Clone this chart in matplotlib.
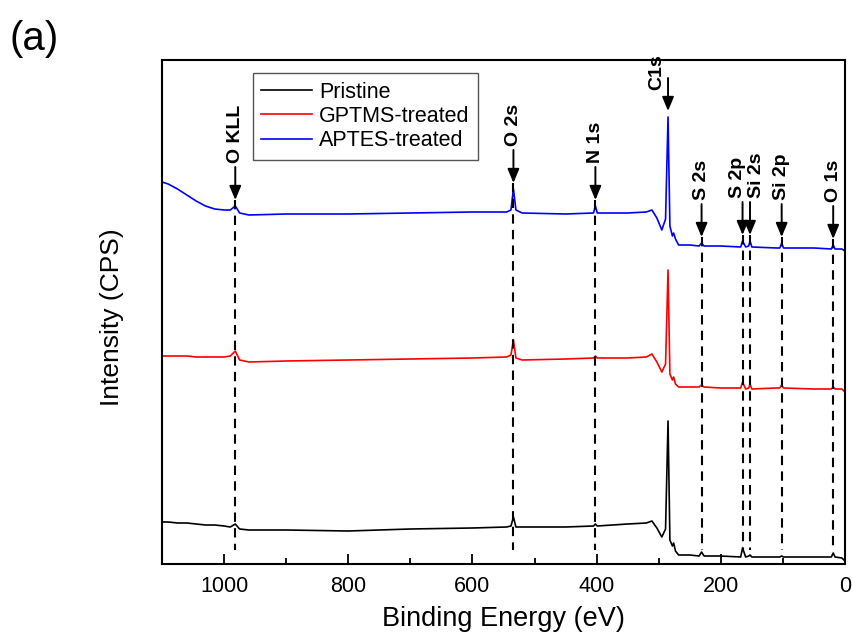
import numpy as np
import matplotlib
matplotlib.use("Agg")
import matplotlib.pyplot as plt
from matplotlib.ticker import MultipleLocator

plt.rcParams["font.family"] = ["Liberation Sans", "DejaVu Sans"]

# binding energy grid (eV) and intensities (arbitrary)
energy = [1100, 1090, 1075, 1060, 1045, 1030, 1015, 1000, 990, 982, 975, 960, 900, 800, 700, 600,
          545, 538, 534, 530, 520, 450, 405, 402, 399, 350, 320, 311, 303, 295,
          289, 285, 282, 278, 276, 273, 268, 250, 235, 231, 227, 200, 168, 165,
          160, 155, 153, 150, 110, 105, 102, 99, 50, 22, 19, 16, 5, 0]

pristine = [42, 42, 41, 41, 40, 39, 39, 38, 37, 40, 35, 34, 34, 33, 35, 36,
            37, 38, 47, 37, 37, 37, 38, 40, 38, 40, 41, 43, 36, 27,
            35, 143, 24, 18, 21, 13, 9, 9, 8, 12, 8, 8, 7, 16,
            7, 8, 9, 7, 7, 7, 8, 7, 7, 7, 11, 7, 6, 3]

gptms = [208, 208, 208, 208, 207, 207, 207, 207, 208, 213, 204, 202, 203, 204, 205, 206,
         207, 209, 224, 206, 204, 205, 206, 208, 206, 206, 207, 210, 202, 192,
         200, 294, 190, 184, 187, 180, 177, 177, 177, 179, 177, 176, 176, 182,
         175, 176, 180, 175, 176, 176, 179, 176, 175, 175, 177, 175, 175, 172]

aptes = [382, 380, 375, 369, 363, 358, 355, 354, 354, 358, 351, 349, 350, 350, 351, 352,
         352, 354, 375, 354, 351, 350, 351, 358, 351, 351, 352, 354, 346, 334,
         345, 447, 338, 328, 331, 325, 319, 319, 318, 321, 318, 318, 317, 323,
         317, 318, 323, 317, 316, 316, 321, 316, 316, 315, 319, 315, 315, 313]

series_names = ["Pristine", "GPTMS-treated", "APTES-treated"]
series_colors = ["black", "red", "blue"]

peak_labels = ["O KLL", "O 2s", "N 1s", "C1s", "S 2s", "S 2p", "Si 2s", "Si 2p", "O 1s"]
peak_energies = [982, 534, 402, 285, 231, 165, 153, 102, 19]

fig = plt.figure(figsize=(8.53, 6.43), dpi=100)
ax = fig.add_axes([162 / 853, 79 / 643, 683 / 853, 504 / 643])

for ys, name, c in zip([pristine, gptms, aptes], series_names, series_colors):
    ax.plot(energy, ys, color=c, lw=1.2, label=name)

# arrows + dashed guide lines
text_dx = {"C1s": 18, "S 2p": 8, "Si 2s": -11}
for lab, e in zip(peak_labels, peak_energies):
    tip = np.interp(e, energy[::-1], aptes[::-1]) + 6
    top = tip + 33
    ax.annotate("", xy=(e, tip), xytext=(e, top),
                arrowprops=dict(arrowstyle="-|>,head_length=0.6,head_width=0.25",
                                mutation_scale=14, color="black", lw=1.4,
                                shrinkA=0, shrinkB=0))
    if lab == "C1s":
        ty = top - 12
    else:
        ty = top + 4
    ax.text(e + text_dx.get(lab, 0), ty, lab, rotation=90, ha="center", va="bottom",
            fontsize=14, fontweight="bold")
    if lab != "C1s":
        ax.plot([e, e], [tip, 14], color="black", lw=1.5, linestyle=(0, (4.5, 3)))

ax.set_xlim(1100, 0)
ax.set_ylim(0, 504)
ax.xaxis.set_major_locator(MultipleLocator(200))
ax.xaxis.set_minor_locator(MultipleLocator(100))
ax.set_yticks([])
ax.tick_params(axis="x", which="major", direction="in", length=7, width=1.3,
               labelsize=15.5, pad=9)
ax.tick_params(axis="x", which="minor", direction="in", length=4, width=1.3)
for s in ax.spines.values():
    s.set_linewidth(1.5)

ax.set_xlabel("Binding Energy (eV)", fontsize=19.5)
ax.xaxis.set_label_coords(0.5, -0.083)
ax.xaxis.label.set_va("top")
ax.set_ylabel("Intensity (CPS)", fontsize=19)
ax.yaxis.set_label_coords(-0.055, 0.49)

leg = ax.legend(loc="upper left", bbox_to_anchor=(0.133, 0.974), borderaxespad=0,
                fontsize=15.5, handlelength=2.33, handletextpad=0.35,
                labelspacing=0.15, borderpad=0.4, fancybox=False, framealpha=1)
leg.get_frame().set_edgecolor("#555555")
leg.get_frame().set_linewidth(1.0)

fig.text(10 / 853, 1 - 20 / 643, "(a)", fontsize=29, ha="left", va="top")

fig.savefig("out.png", dpi=100)
